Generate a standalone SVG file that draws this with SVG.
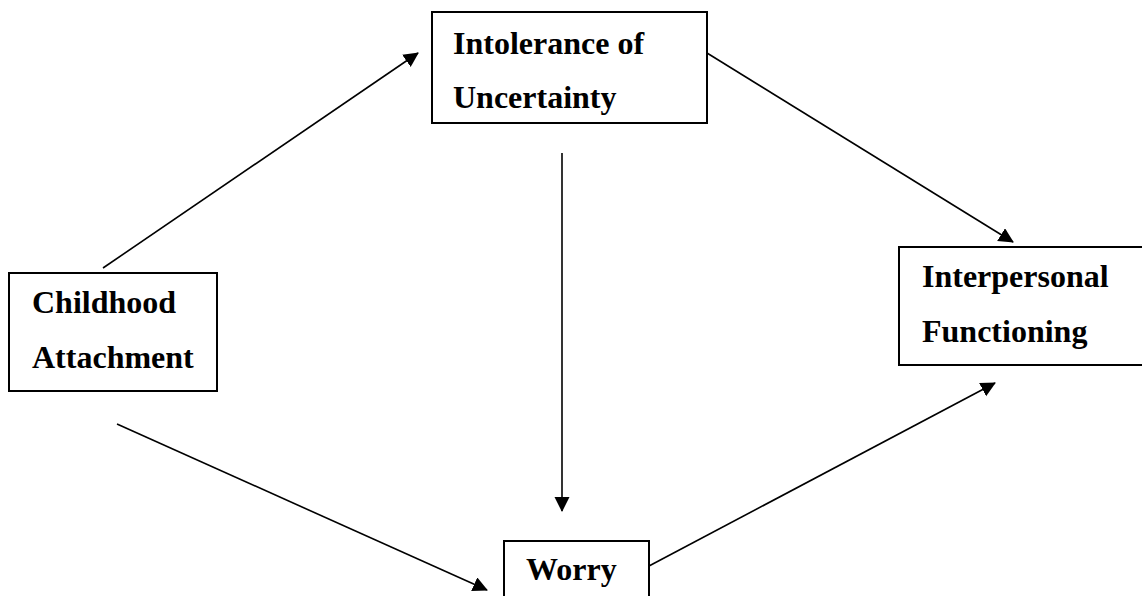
<svg xmlns="http://www.w3.org/2000/svg" width="1142" height="596" viewBox="0 0 1142 596">
<style>
.box{fill:#fff;stroke:#000;stroke-width:2}
.lbl{font-family:"Liberation Serif","Times New Roman",serif;font-weight:bold;font-size:32px;fill:#000}
.conn line{stroke:#000;stroke-width:1.6;marker-end:url(#ah)}
</style>
<defs>
<marker id="ah" markerUnits="userSpaceOnUse" markerWidth="16" markerHeight="16" refX="14" refY="7.5" orient="auto">
<path d="M0,0 L15,7.5 L0,15 z" fill="#000"/>
</marker>
</defs>
<rect width="1142" height="596" fill="#fff"/>
<g id="n-intolerance">
<rect class="box" x="432" y="12" width="275" height="111"/>
<text class="lbl" x="453" y="54">Intolerance of</text>
<text class="lbl" x="453" y="108">Uncertainty</text>
</g>
<g id="n-childhood">
<rect class="box" x="9" y="273" width="208" height="118"/>
<text class="lbl" x="32" y="313">Childhood</text>
<text class="lbl" x="32" y="368">Attachment</text>
</g>
<g id="n-interpersonal">
<rect class="box" x="899" y="247" width="260" height="118"/>
<text class="lbl" x="922" y="287">Interpersonal</text>
<text class="lbl" x="922" y="342">Functioning</text>
</g>
<g id="n-worry">
<rect class="box" x="504" y="541" width="145" height="70"/>
<text class="lbl" x="526" y="580">Worry</text>
</g>
<g id="connectors" class="conn">
<line x1="103" y1="268" x2="418" y2="53"/>
<line x1="707" y1="53" x2="1013" y2="242"/>
<line x1="562" y1="153" x2="562" y2="511"/>
<line x1="117" y1="424" x2="487" y2="590"/>
<line x1="649" y1="566" x2="995" y2="383"/>
</g>
</svg>
